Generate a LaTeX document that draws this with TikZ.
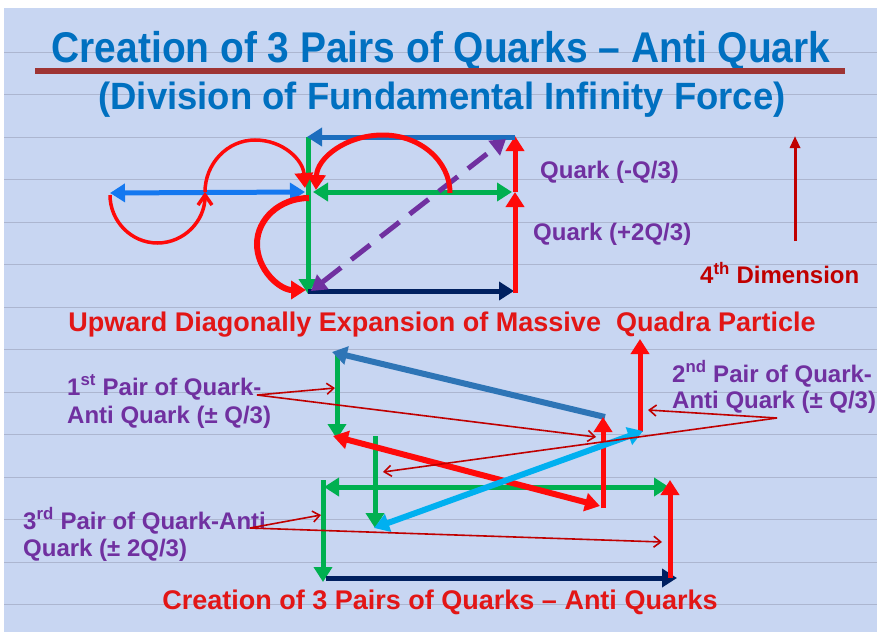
\documentclass[tikz,border=0pt]{standalone}
\usepackage{fontspec}
\setmainfont{Liberation Sans}
\usetikzlibrary{arrows.meta}
\definecolor{bg}{RGB}{200,214,242}
\definecolor{gridc}{RGB}{172,182,208}
\definecolor{titleblue}{RGB}{0,112,192}
\definecolor{ulred}{RGB}{158,52,52}
\definecolor{purp}{RGB}{112,48,160}
\definecolor{redtxt}{RGB}{226,22,22}
\definecolor{darkred}{RGB}{192,0,0}
\definecolor{qred}{RGB}{255,10,10}
\definecolor{qgreen}{RGB}{0,176,80}
\definecolor{topblue}{RGB}{28,110,190}
\definecolor{ltblue}{RGB}{20,120,240}
\definecolor{navy}{RGB}{0,32,96}
\definecolor{bblue}{RGB}{46,117,182}
\definecolor{cyanb}{RGB}{0,176,240}
\tikzset{
  ar/.style={line width=5pt,-{Triangle[length=15pt,width=18pt]}},
  dar/.style={line width=5pt,{Triangle[length=15pt,width=18pt]}-{Triangle[length=15pt,width=18pt]}},
  ann/.style={darkred,line width=1.6pt,-{Straight Barb[length=7pt,width=11pt]}},
  lbl/.style={inner sep=0pt,anchor=base west,text=purp,font=\fontsize{24}{28}\selectfont\bfseries},
  gridline/.style={gridc,line width=0.7pt}
}
\begin{document}
\begin{tikzpicture}[x=1pt,y=-1pt]
\useasboundingbox (0,0) rectangle (880,634);
\fill[white] (0,0) rectangle (880,634);
\fill[bg] (4,8) rectangle (877,632);
\foreach \yy in {52,94.5,137,179.5,222,264.5,307,349.5,392,434.5,477,519.5,562,604.5}
  \draw[gridline] (4,\yy) -- (877,\yy);

% ---------- titles ----------
\node[inner sep=0pt,anchor=base,text=titleblue,font=\fontsize{43}{43}\selectfont\bfseries] (title) at (441,63)
  {\scalebox{0.905}[1]{Creation of 3 Pairs of Quarks – Anti Quark}};
\coordinate (ul1) at (35,71);
\coordinate (ul2) at (845,71);
\draw[ulred,line width=5.5pt] (ul1) -- (ul2);
\node[inner sep=0pt,anchor=base,text=titleblue,font=\fontsize{38}{38}\selectfont\bfseries] (subtitle) at (442,109)
  {\scalebox{0.96}[1]{(Division of Fundamental Infinity Force)}};

% ---------- upper diagram ----------
\coordinate (bl) at (110,193);
\coordinate (br) at (305,192);
\coordinate (gt) at (308,137);
\coordinate (gb) at (308,294);
\coordinate (hl) at (313,192);
\coordinate (hr) at (512,192);
\coordinate (tr) at (515,137);
\coordinate (tl) at (307,137);
\coordinate (rb) at (515,293);
\coordinate (rm) at (515,192);
\coordinate (rt) at (515,136);
\coordinate (nl) at (308,291);
\coordinate (nr) at (514,291);
\coordinate (pl) at (311,291);
\coordinate (pr) at (506,139);
\coordinate (s0) at (110,195);
\coordinate (s1) at (205,192);
\coordinate (s2) at (305,188);
\coordinate (a0) at (450,193);
\coordinate (a1) at (316,190);
\coordinate (c0) at (309,198);
\coordinate (c1) at (306,290);

\draw[dar,ltblue] (bl) -- (br);
\draw[ar,qgreen] (gt) -- (gb);
\draw[dar,qgreen] (hl) -- (hr);
\draw[ar,navy] (nl) -- (nr);
\draw[ar,qred] (rb) -- (rm);
\draw[ar,qred] (rm) -- (rt);
\draw[ar,topblue] (tr) -- (tl);
\draw[purp,line width=5pt,dash pattern=on 24pt off 13pt,{Triangle[length=15pt,width=18pt]}-{Triangle[length=15pt,width=18pt]}] (pl) -- (pr);
\draw[qred,line width=3.5pt,-{Straight Barb[length=10pt,width=14pt]}] (s0) .. controls (110,221) and (131,243) .. (157.5,243) .. controls (184,243) and (205,221) .. (s1);
\draw[qred,line width=3.5pt,-{Triangle[length=15pt,width=18pt]}] (s1) .. controls (205,164) and (227,140) .. (255,140) .. controls (283,140) and (303,160) .. (s2);
\draw[qred,line width=5pt,-{Triangle[length=15pt,width=18pt]}] (a0) .. controls (450,161) and (420,135) .. (383,135) .. controls (346,135) and (317,158) .. (a1);
\draw[qred,line width=6pt,-{Triangle[length=15pt,width=18pt]}] (c0) .. controls (280,198) and (257,219) .. (257,244) .. controls (257,270) and (280,290) .. (c1);

\node[lbl] (qm) at (540,178.5) {Quark (-Q/3)};
\node[lbl] (qp) at (533,240.5) {Quark (+2Q/3)};
\coordinate (d0) at (795,241);
\coordinate (d1) at (795,136);
\draw[darkred,line width=3pt,-{Triangle[length=12pt,width=10pt]}] (d0) -- (d1);
\node[lbl,text=darkred] (dim) at (700,283.5) {4\textsuperscript{th} Dimension};

\node[inner sep=0pt,anchor=base,text=redtxt,font=\fontsize{27}{27}\selectfont\bfseries] (mid) at (442,331.5)
  {Upward Diagonally Expansion of Massive\ \ Quadra Particle};

% ---------- lower diagram ----------
\coordinate (g1t) at (337,355);
\coordinate (g1b) at (337,439);
\coordinate (b1s) at (605,417);
\coordinate (b1e) at (332,352);
\coordinate (r1b) at (603,508);
\coordinate (r1t) at (603,417);
\coordinate (rdl) at (333,436);
\coordinate (rdr) at (600,506);
\coordinate (r2b) at (640,432);
\coordinate (r2t) at (640,339);
\coordinate (cyl) at (374,528);
\coordinate (cyr) at (643,431);
\coordinate (g2t) at (375,436);
\coordinate (g2b) at (375,528);
\coordinate (g3l) at (324,487);
\coordinate (g3r) at (669,487);
\coordinate (g3t) at (323,480);
\coordinate (g3b) at (323,582);
\coordinate (nvl) at (326,578);
\coordinate (nvr) at (677,578);
\coordinate (r3b) at (670,578);
\coordinate (r3t) at (670,480);

\draw[ar,qgreen] (g1t) -- (g1b);
\draw[ar,qgreen] (g2t) -- (g2b);
\draw[dar,qgreen] (g3l) -- (g3r);
\draw[ar,qgreen] (g3t) -- (g3b);
\draw[ar,bblue,line width=6pt] (b1s) -- (b1e);
\draw[dar,qred,line width=6pt] (rdl) -- (rdr);
\draw[ar,qred] (r1b) -- (r1t);
\draw[ar,qred] (r2b) -- (r2t);
\draw[dar,cyanb,line width=6pt] (cyl) -- (cyr);
\draw[ar,navy] (nvl) -- (nvr);
\draw[ar,qred] (r3b) -- (r3t);

% labels
\node[lbl] (p1a) at (67,395) {1\textsuperscript{st} Pair of Quark-};
\node[lbl] (p1b) at (67,423) {Anti Quark (± Q/3)};
\node[lbl] (p2a) at (672,382) {2\textsuperscript{nd} Pair of Quark-};
\node[lbl] (p2b) at (672,408) {Anti Quark (± Q/3)};
\node[lbl] (p3a) at (23,529) {3\textsuperscript{rd} Pair of Quark-Anti};
\node[lbl] (p3b) at (23,556) {Quark (± 2Q/3)};

\coordinate (k1) at (257,395);
\coordinate (k1a) at (335,388);
\coordinate (k1b) at (596,437);
\coordinate (k2) at (777,418);
\coordinate (k2a) at (648,410);
\coordinate (k2b) at (383,472);
\coordinate (k3) at (250,528);
\coordinate (k3a) at (321,515);
\coordinate (k3b) at (662,542);
\draw[ann] (k1) -- (k1a);
\draw[ann] (k1) -- (k1b);
\draw[ann] (k2) -- (k2a);
\draw[ann] (k2) -- (k2b);
\draw[ann] (k3) -- (k3a);
\draw[ann] (k3) -- (k3b);

\node[inner sep=0pt,anchor=base,text=redtxt,font=\fontsize{27}{27}\selectfont\bfseries] (bottom) at (440,609.5)
  {Creation of 3 Pairs of Quarks – Anti Quarks};
\end{tikzpicture}
\end{document}
